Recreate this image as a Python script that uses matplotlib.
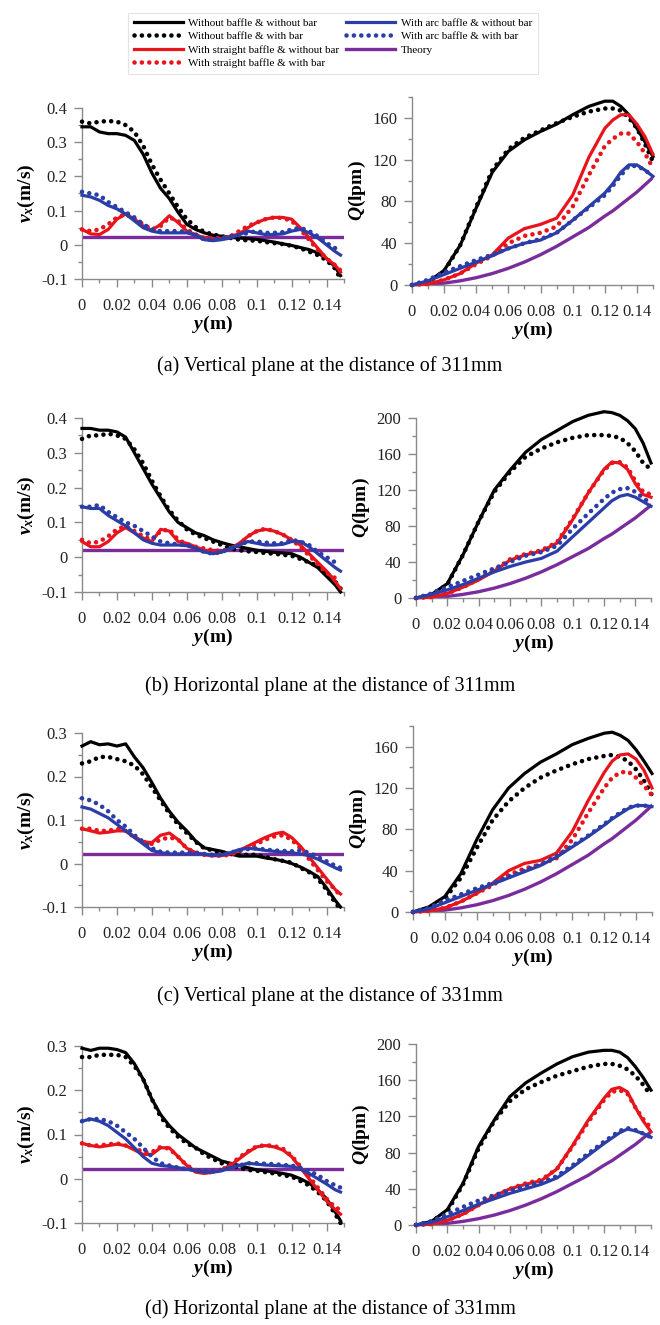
import numpy as np
import matplotlib
matplotlib.use("Agg")
import matplotlib.pyplot as plt
from matplotlib.ticker import MultipleLocator, FuncFormatter

plt.rcParams['font.family'] = ['Liberation Serif', 'DejaVu Serif']
plt.rcParams['mathtext.fontset'] = 'custom'
plt.rcParams['mathtext.it'] = 'Liberation Serif:italic:bold'
plt.rcParams['mathtext.rm'] = 'Liberation Serif:bold'

# -- series names --
labels = ["Without baffle & without bar", "Without baffle & with bar",
          "With straight baffle & without bar", "With straight baffle & with bar",
          "With arc baffle & without bar", "With arc baffle & with bar", "Theory"]
captions = ["(a) Vertical plane at the distance of 311mm",
            "(b) Horizontal plane at the distance of 311mm",
            "(c) Vertical plane at the distance of 331mm",
            "(d) Horizontal plane at the distance of 331mm"]

# -- positions along y (m) --
y_v = [0, .005, .01, .015, .02, .025, .03, .035, .04, .045, .05, .055, .06, .065, .07,
       .075, .08, .085, .09, .095, .1, .105, .11, .115, .12, .125, .13, .135, .14, .145, .148]
y_q = [0, .01, .02, .03, .04, .05, .06, .07, .08, .09, .1, .11, .12, .125, .13, .135, .14, .145, .15]
y_th = [0, 0.15]

# -- velocity vx (m/s) --
va_k = [0.345, 0.345, 0.33, 0.325, 0.325, 0.32, 0.305, 0.265, 0.21, 0.165, 0.135, 0.095, 0.06, 0.045, 0.035, 0.028,
        0.025, 0.022, 0.02, 0.018, 0.016, 0.012, 0.008, 0.003, -0.002, -0.008, -0.014, -0.024, -0.04, -0.065, -0.09]
va_kd = [0.36, 0.355, 0.36, 0.362, 0.36, 0.35, 0.33, 0.29, 0.235, 0.19, 0.15, 0.11, 0.075, 0.052, 0.038, 0.03,
         0.025, 0.02, 0.015, 0.013, 0.012, 0.008, 0.005, 0.002, -0.003, -0.01, -0.02, -0.03, -0.045, -0.07, -0.1]
va_r = [0.045, 0.032, 0.03, 0.045, 0.075, 0.09, 0.075, 0.055, 0.042, 0.06, 0.085, 0.065, 0.04, 0.03, 0.02, 0.015,
        0.018, 0.025, 0.032, 0.05, 0.065, 0.075, 0.08, 0.08, 0.075, 0.05, 0.02, -0.01, -0.04, -0.06, -0.08]
va_rd = [0.045, 0.04, 0.045, 0.06, 0.08, 0.09, 0.075, 0.06, 0.045, 0.055, 0.08, 0.07, 0.045, 0.03, 0.02, 0.02,
         0.02, 0.025, 0.04, 0.055, 0.065, 0.075, 0.08, 0.078, 0.07, 0.045, 0.015, -0.015, -0.04, -0.06, -0.075]
va_b = [0.145, 0.14, 0.13, 0.115, 0.105, 0.09, 0.07, 0.05, 0.04, 0.035, 0.035, 0.035, 0.035, 0.028, 0.015, 0.012,
        0.015, 0.02, 0.03, 0.04, 0.035, 0.03, 0.03, 0.032, 0.04, 0.045, 0.035, 0.02, 0.0, -0.02, -0.03]
va_bd = [0.155, 0.15, 0.145, 0.125, 0.11, 0.095, 0.08, 0.06, 0.045, 0.04, 0.04, 0.04, 0.038, 0.03, 0.015, 0.015,
         0.02, 0.025, 0.028, 0.035, 0.04, 0.035, 0.035, 0.037, 0.045, 0.05, 0.04, 0.025, 0.005, -0.01, -0.015]

vb_k = [0.37, 0.37, 0.365, 0.365, 0.36, 0.345, 0.30, 0.255, 0.21, 0.17, 0.13, 0.10, 0.085, 0.07, 0.062, 0.05,
        0.042, 0.035, 0.03, 0.025, 0.02, 0.017, 0.014, 0.012, 0.01, 0.0, -0.015, -0.03, -0.055, -0.08, -0.1]
vb_kd = [0.34, 0.35, 0.35, 0.355, 0.35, 0.34, 0.31, 0.27, 0.22, 0.175, 0.135, 0.105, 0.08, 0.065, 0.055, 0.045,
         0.035, 0.025, 0.02, 0.017, 0.015, 0.012, 0.01, 0.007, 0.004, -0.005, -0.015, -0.025, -0.045, -0.07, -0.09]
vb_r = [0.045, 0.03, 0.03, 0.045, 0.07, 0.085, 0.07, 0.055, 0.045, 0.08, 0.075, 0.045, 0.04, 0.03, 0.02, 0.015,
        0.015, 0.025, 0.04, 0.06, 0.075, 0.08, 0.075, 0.065, 0.05, 0.035, 0.01, -0.015, -0.04, -0.07, -0.09]
vb_rd = [0.05, 0.04, 0.045, 0.06, 0.08, 0.09, 0.075, 0.06, 0.05, 0.075, 0.08, 0.05, 0.038, 0.03, 0.025, 0.02,
         0.018, 0.025, 0.035, 0.06, 0.075, 0.082, 0.075, 0.065, 0.05, 0.03, 0.005, -0.02, -0.045, -0.06, -0.07]
vb_b = [0.145, 0.14, 0.14, 0.12, 0.105, 0.09, 0.07, 0.05, 0.04, 0.035, 0.035, 0.035, 0.033, 0.025, 0.015, 0.01,
        0.015, 0.025, 0.035, 0.045, 0.04, 0.035, 0.035, 0.037, 0.045, 0.045, 0.03, 0.01, -0.01, -0.03, -0.04]
vb_bd = [0.145, 0.145, 0.15, 0.13, 0.115, 0.10, 0.09, 0.075, 0.06, 0.045, 0.04, 0.037, 0.035, 0.025, 0.015, 0.01,
         0.015, 0.025, 0.035, 0.045, 0.045, 0.042, 0.04, 0.04, 0.05, 0.045, 0.035, 0.015, 0.0, -0.015, -0.02]

vc_k = [0.27, 0.28, 0.273, 0.275, 0.27, 0.275, 0.245, 0.22, 0.186, 0.15, 0.12, 0.095, 0.075, 0.052, 0.036, 0.032,
        0.028, 0.022, 0.017, 0.017, 0.017, 0.013, 0.01, 0.006, 0.0, -0.008, -0.018, -0.03, -0.056, -0.085, -0.1]
vc_kd = [0.23, 0.235, 0.245, 0.245, 0.24, 0.235, 0.225, 0.205, 0.175, 0.145, 0.115, 0.09, 0.07, 0.05, 0.035, 0.03,
         0.025, 0.022, 0.02, 0.02, 0.02, 0.015, 0.01, 0.006, 0.002, -0.01, -0.02, -0.035, -0.06, -0.09, -0.105]
vc_r = [0.08, 0.075, 0.07, 0.072, 0.075, 0.075, 0.06, 0.05, 0.048, 0.065, 0.07, 0.055, 0.035, 0.025, 0.02, 0.018,
        0.018, 0.022, 0.03, 0.04, 0.05, 0.06, 0.068, 0.072, 0.06, 0.04, 0.015, -0.01, -0.035, -0.06, -0.07]
vc_rd = [0.08, 0.08, 0.075, 0.075, 0.08, 0.075, 0.06, 0.05, 0.045, 0.055, 0.06, 0.055, 0.035, 0.025, 0.02, 0.018,
         0.018, 0.02, 0.028, 0.036, 0.045, 0.055, 0.062, 0.065, 0.055, 0.035, 0.01, -0.015, -0.04, -0.06, -0.075]
vc_b = [0.13, 0.125, 0.115, 0.105, 0.09, 0.075, 0.06, 0.045, 0.03, 0.025, 0.022, 0.022, 0.022, 0.022, 0.022, 0.018,
        0.02, 0.025, 0.032, 0.035, 0.033, 0.03, 0.028, 0.026, 0.025, 0.022, 0.018, 0.01, 0.0, -0.01, -0.015]
vc_bd = [0.15, 0.145, 0.135, 0.12, 0.10, 0.085, 0.065, 0.05, 0.035, 0.027, 0.025, 0.025, 0.025, 0.025, 0.022, 0.02,
         0.02, 0.025, 0.03, 0.033, 0.035, 0.032, 0.03, 0.029, 0.028, 0.03, 0.025, 0.015, 0.005, -0.005, -0.01]

vd_k = [0.295, 0.29, 0.295, 0.295, 0.292, 0.285, 0.26, 0.225, 0.18, 0.145, 0.12, 0.10, 0.085, 0.07, 0.06, 0.05,
        0.04, 0.035, 0.03, 0.025, 0.02, 0.018, 0.015, 0.012, 0.008, 0.0, -0.01, -0.025, -0.045, -0.075, -0.095]
vd_kd = [0.275, 0.275, 0.28, 0.28, 0.28, 0.275, 0.255, 0.225, 0.18, 0.14, 0.115, 0.095, 0.08, 0.07, 0.055, 0.045,
         0.035, 0.03, 0.025, 0.02, 0.018, 0.015, 0.012, 0.008, 0.005, -0.005, -0.015, -0.03, -0.05, -0.08, -0.1]
vd_r = [0.08, 0.075, 0.072, 0.075, 0.078, 0.075, 0.065, 0.055, 0.055, 0.07, 0.07, 0.05, 0.03, 0.015, 0.012, 0.015,
        0.02, 0.03, 0.045, 0.06, 0.072, 0.075, 0.072, 0.065, 0.05, 0.025, 0.0, -0.025, -0.05, -0.07, -0.08]
vd_rd = [0.08, 0.075, 0.075, 0.078, 0.08, 0.075, 0.07, 0.06, 0.06, 0.072, 0.068, 0.05, 0.03, 0.02, 0.015, 0.015,
         0.02, 0.032, 0.048, 0.062, 0.073, 0.076, 0.074, 0.068, 0.052, 0.028, 0.005, -0.02, -0.045, -0.065, -0.07]
vd_b = [0.13, 0.135, 0.13, 0.12, 0.105, 0.09, 0.07, 0.05, 0.035, 0.03, 0.028, 0.025, 0.022, 0.018, 0.015, 0.015,
        0.018, 0.025, 0.03, 0.035, 0.033, 0.031, 0.03, 0.029, 0.028, 0.022, 0.012, 0.0, -0.012, -0.025, -0.03]
vd_bd = [0.13, 0.135, 0.135, 0.13, 0.12, 0.105, 0.09, 0.07, 0.05, 0.035, 0.03, 0.025, 0.022, 0.02, 0.018, 0.018,
         0.02, 0.025, 0.03, 0.035, 0.035, 0.034, 0.033, 0.031, 0.03, 0.025, 0.018, 0.008, -0.005, -0.015, -0.02]
v_th = [0.022, 0.022]

# -- flow rate Q (lpm) --
qa_k = [0, 3, 14, 38, 74, 108, 128, 139, 147, 154, 163, 171, 176, 176, 171, 163, 150, 137, 123]
qa_kd = [0, 3, 13, 38, 75, 110, 130, 141, 148, 155, 161, 166, 169, 169, 167, 160, 150, 135, 118]
qa_r = [0, 1, 5, 11, 21, 29, 45, 54, 58, 64, 86, 122, 150, 158, 163, 163, 154, 142, 125]
qa_rd = [0, 1, 5, 11, 20, 28, 40, 47, 50, 56, 75, 105, 133, 140, 145, 145, 137, 126, 112]
qa_b = [0, 4, 10, 16, 22, 28, 35, 40, 43, 50, 62, 75, 88, 97, 108, 115, 115, 110, 104]
qa_bd = [0, 5, 12, 18, 24, 29, 35, 40, 44, 50, 62, 74, 86, 95, 105, 114, 114, 110, 104]

qb_k = [0, 4, 16, 48, 85, 120, 142, 162, 176, 186, 196, 203, 207, 206, 203, 197, 188, 172, 150]
qb_kd = [0, 4, 15, 48, 85, 118, 140, 157, 166, 173, 178, 181, 181, 180, 178, 172, 163, 150, 143]
qb_r = [0, 1, 5, 12, 20, 30, 42, 48, 52, 61, 87, 117, 143, 151, 150, 143, 127, 115, 112]
qb_rd = [0, 1, 5, 12, 21, 31, 43, 49, 53, 62, 88, 117, 142, 150, 151, 145, 130, 118, 115]
qb_b = [0, 4, 9, 15, 22, 29, 35, 40, 44, 52, 68, 84, 100, 108, 113, 115, 112, 107, 102]
qb_bd = [0, 5, 12, 19, 26, 33, 40, 47, 51, 58, 77, 94, 110, 117, 121, 122, 118, 111, 105]

qc_k = [0, 5, 15, 37, 70, 99, 120, 134, 145, 153, 162, 168, 173, 174, 171, 166, 157, 146, 134]
qc_kd = [0, 4, 13, 33, 62, 89, 107, 120, 130, 137, 143, 148, 151, 152, 150, 146, 138, 127, 113]
qc_r = [0, 1, 4, 10, 18, 28, 40, 47, 50, 57, 78, 108, 135, 146, 152, 153, 148, 137, 120]
qc_rd = [0, 1, 4, 10, 18, 26, 36, 42, 46, 52, 70, 96, 120, 130, 135, 136, 130, 122, 113]
qc_b = [0, 3, 9, 15, 21, 27, 33, 39, 45, 53, 63, 73, 84, 90, 95, 100, 103, 103, 102]
qc_bd = [0, 4, 11, 17, 23, 28, 34, 40, 46, 54, 64, 74, 85, 91, 96, 101, 103, 103, 102]

qd_k = [0, 4, 17, 46, 87, 116, 142, 157, 168, 178, 186, 191, 193, 193, 191, 185, 175, 163, 149]
qd_kd = [0, 4, 15, 45, 85, 115, 137, 150, 158, 165, 170, 175, 178, 178, 176, 172, 165, 155, 143]
qd_r = [0, 1, 5, 12, 22, 32, 40, 45, 49, 62, 88, 116, 140, 150, 152, 147, 130, 115, 103]
qd_rd = [0, 1, 5, 12, 22, 32, 40, 46, 50, 62, 87, 114, 138, 147, 149, 145, 130, 117, 107]
qd_b = [0, 3, 9, 16, 23, 29, 35, 40, 45, 52, 64, 77, 90, 96, 102, 106, 104, 101, 97]
qd_bd = [0, 4, 12, 20, 27, 33, 38, 43, 47, 54, 66, 79, 92, 98, 104, 107, 105, 101, 97]
q_th = [0, 0.5, 1.8, 4, 7, 11, 16, 22, 29, 37, 46, 55, 66, 71, 77, 83, 89, 96, 103]

v_sets = [[va_k, va_kd, va_r, va_rd, va_b, va_bd],
          [vb_k, vb_kd, vb_r, vb_rd, vb_b, vb_bd],
          [vc_k, vc_kd, vc_r, vc_rd, vc_b, vc_bd],
          [vd_k, vd_kd, vd_r, vd_rd, vd_b, vd_bd]]
q_sets = [[qa_k, qa_kd, qa_r, qa_rd, qa_b, qa_bd],
          [qb_k, qb_kd, qb_r, qb_rd, qb_b, qb_bd],
          [qc_k, qc_kd, qc_r, qc_rd, qc_b, qc_bd],
          [qd_k, qd_kd, qd_r, qd_rd, qd_b, qd_bd]]
v_lims = [(-0.1, 0.4), (-0.1, 0.4), (-0.1, 0.3), (-0.1, 0.3)]
q_lims = [(0, 180), (0, 200), (0, 180), (0, 200)]

colors = ['#000000', '#000000', '#e8141c', '#e8141c', '#2b3ea8', '#2b3ea8']
dotted = [False, True, False, True, False, True]
th_color = '#7b2c9c'

W, H = 660, 1325
fig = plt.figure(figsize=(W / 100, H / 100), dpi=100)


def px_axes(left, top, right, bottom):
    return fig.add_axes([left / W, 1 - bottom / H, (right - left) / W, (bottom - top) / H])


# pixel boxes (left, top, right, bottom)
left_boxes = [(82, 108, 344, 279), (82, 418, 344, 592), (82, 733, 344, 907), (82, 1046, 344, 1223)]
right_boxes = [(412, 97, 653, 285), (416, 418, 651, 598), (413, 726, 652, 912), (416, 1044, 651, 1225)]
caption_y = [366, 686, 996, 1309]

fmt = FuncFormatter(lambda v, p: '%g' % round(v, 4))


def style(ax, ymajor, yminor):
    for s in ['top', 'right']:
        ax.spines[s].set_visible(False)
    for s in ['left', 'bottom']:
        ax.spines[s].set_color('#8a8a8a')
        ax.spines[s].set_linewidth(1.0)
    ax.set_xlim(0, 0.15)
    ax.xaxis.set_major_locator(MultipleLocator(0.02))
    ax.xaxis.set_minor_locator(MultipleLocator(0.01))
    ax.yaxis.set_major_locator(MultipleLocator(ymajor))
    ax.yaxis.set_minor_locator(MultipleLocator(yminor))
    ax.xaxis.set_major_formatter(fmt)
    ax.yaxis.set_major_formatter(fmt)
    ax.tick_params(which='both', direction='out', color='#8a8a8a', width=1.0,
                   labelsize=12, labelcolor='#222222')
    ax.tick_params(which='major', length=5.5)
    ax.tick_params(which='minor', length=3)
    ax.tick_params(axis='x', which='major', pad=8)
    ax.tick_params(axis='y', which='major', pad=5)
    ax.set_xlabel(r'$y$(m)', fontsize=14, fontweight='bold', labelpad=0)


def draw(ax, x, series):
    hs = []
    for vals, c, d in zip(series, colors, dotted):
        if d:
            h, = ax.plot(x, vals, color=c, lw=3.3, ls=(0, (0.01, 1.6)),
                         dash_capstyle='round', clip_on=False, zorder=3)
        else:
            h, = ax.plot(x, vals, color=c, lw=2.3, clip_on=False, zorder=3)
        hs.append(h)
    return hs


handles = None
for i in range(4):
    axl = px_axes(*left_boxes[i])
    style(axl, 0.1, 0.05)
    axl.set_ylim(*v_lims[i])
    axl.plot(y_th, v_th, color=th_color, lw=2.4, zorder=2)
    draw(axl, y_v, v_sets[i])
    axl.set_ylabel(r'$v_x$(m/s)', fontsize=14, fontweight='bold', labelpad=3)

    axr = px_axes(*right_boxes[i])
    style(axr, 40, 20)
    axr.set_ylim(*q_lims[i])
    th, = axr.plot(y_q, q_th, color=th_color, lw=2.4, zorder=2)
    hs = draw(axr, y_q, q_sets[i])
    axr.set_ylabel(r'$Q$(lpm)', fontsize=14, fontweight='bold', labelpad=3)
    if handles is None:
        handles = hs + [th]

    fig.text(0.5, 1 - caption_y[i] / H, captions[i], ha='center', va='center', fontsize=14.5)

leg = fig.legend(handles, labels, loc='upper center', bbox_to_anchor=(333 / W, 1 - 7 / H),
                 ncol=2, fontsize=8, handlelength=4.4, labelspacing=0.33, columnspacing=0.6,
                 handletextpad=0.5, borderpad=0.5, frameon=True, fancybox=False)
leg.get_frame().set_edgecolor('#dddddd')
leg.get_frame().set_linewidth(0.8)

fig.savefig('out.png', dpi=100)
